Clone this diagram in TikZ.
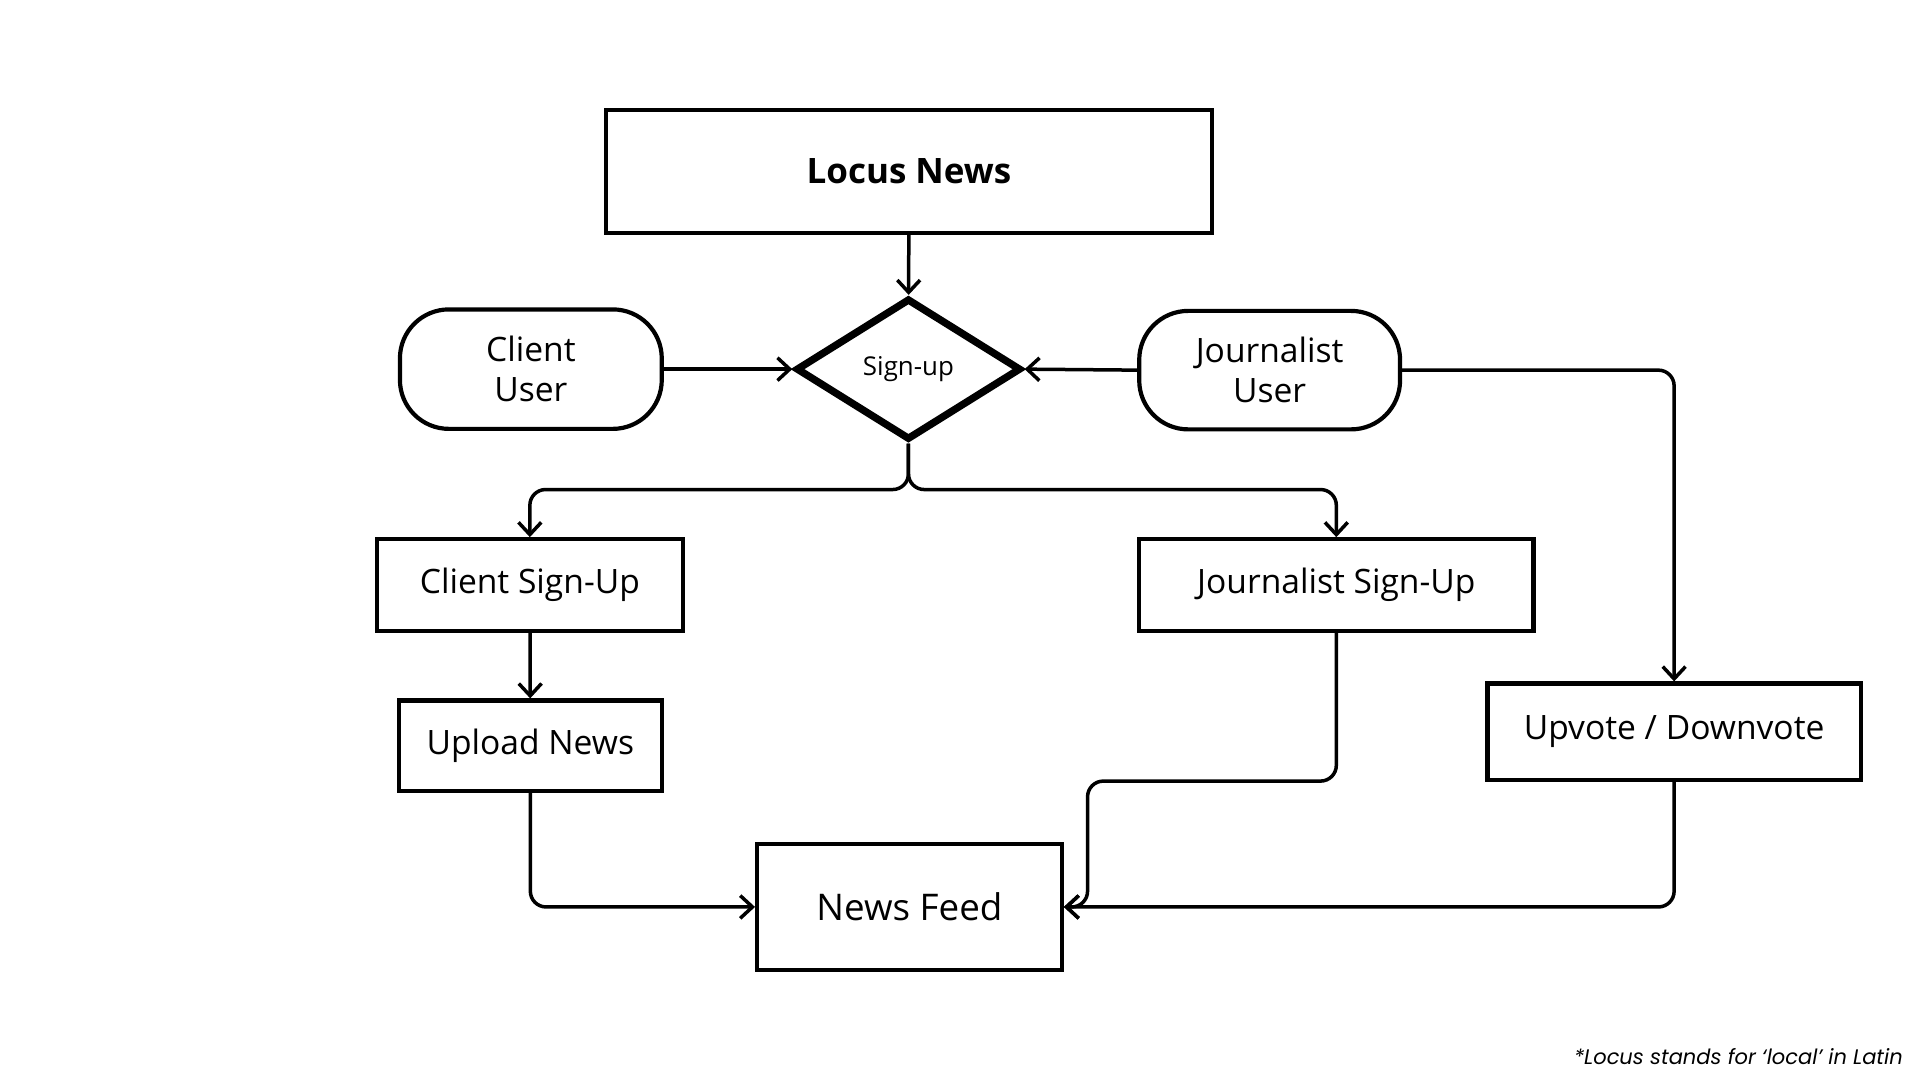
\documentclass[tikz,border=0pt]{standalone}
\usepackage{fontspec}
\setmainfont{Open Sans}
\newfontfamily\notefont{Poppins}
\usetikzlibrary{shapes.geometric, arrows.meta}
\begin{document}
\begin{tikzpicture}[x=0.01cm, y=-0.01cm, line width=1pt, >={Straight Barb[length=3.5pt, width=6.5pt]},
    box/.style={draw, line width=1.2pt, inner sep=0pt, align=center, font=\fontsize{9.6}{11.5}\selectfont},
    pill/.style={box, rounded corners=14pt},
    decision/.style={draw, diamond, line width=2.1pt, inner sep=0pt, minimum width=2.26cm, minimum height=1.42cm, font=\fontsize{7.4}{9}\selectfont},
    flow/.style={->, rounded corners=4.5pt}]
    \useasboundingbox (0,0) rectangle (1929.6,1085.4);
    % Boxes
    \node[box, minimum width=6.09cm, minimum height=1.23cm, font=\fontsize{10}{12}\selectfont\bfseries] (locus) at (913.5,172.5) {Locus News};
    \node[decision] (signup) at (913,371) {Sign-up};
    \node[pill, minimum width=2.63cm, minimum height=1.2cm] (cuser) at (533.5,371) {Client\\User};
    \node[pill, minimum width=2.62cm, minimum height=1.19cm] (juser) at (1276,372) {Journalist\\User};
    \node[box, minimum width=3.07cm, minimum height=0.92cm] (csign) at (532.5,588) {Client Sign-Up};
    \node[box, minimum width=3.96cm, minimum height=0.92cm] (jsign) at (1343,588) {Journalist Sign-Up};
    \node[box, minimum width=2.64cm, minimum height=0.91cm] (upload) at (533,749.5) {Upload News};
    \node[box, minimum width=3.75cm, minimum height=0.97cm] (vote) at (1682.5,735.5) {Upvote / Downvote};
    \node[box, minimum width=3.06cm, minimum height=1.27cm, font=\fontsize{10.5}{13}\selectfont] (feed) at (914,911.5) {News Feed};
    % Bend points
    \coordinate (split) at (913,492);
    \coordinate (jbend) at (1093,785);
    % Connectors
    \draw[flow] (locus) -- (signup);
    \draw[flow] (cuser) -- (signup.west);
    \draw[flow] (juser.west) -- (signup.east);
    \draw[flow] (juser.east) -| (vote.north);
    \draw[flow] (signup.south) |- (split) -| (csign.north);
    \draw[flow] (signup.south) |- (split) -| (jsign.north);
    \draw[flow] (csign) -- (upload);
    \draw[flow] (upload.south) |- (feed.west);
    \draw[flow] (jsign.south) |- (jbend) |- (feed.east);
    \draw[flow] (vote.south) |- (feed.east);
    % Note
    \node[anchor=base east, inner sep=0pt, font=\notefont\itshape\fontsize{6}{7}\selectfont] (note) at (1914,1070) {*Locus stands for ‘local’ in Latin};
\end{tikzpicture}
\end{document}
